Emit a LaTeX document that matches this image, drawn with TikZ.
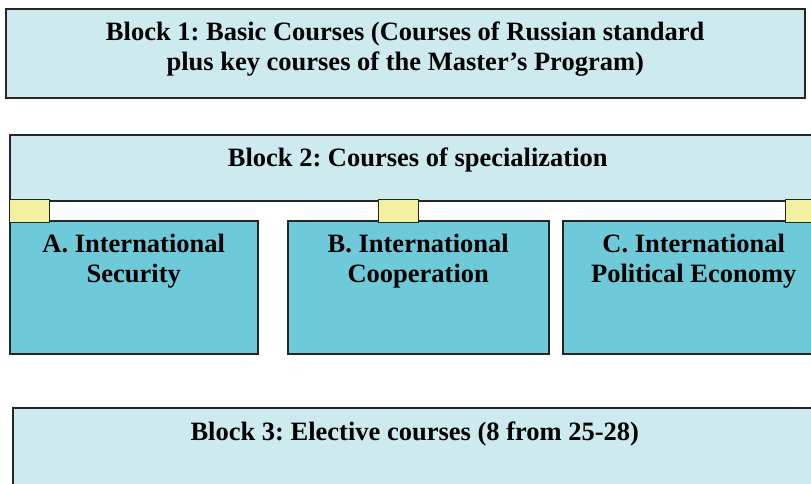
\documentclass[tikz,border=0pt]{standalone}
\usepackage{fontspec}
\setmainfont{Liberation Serif}
\usetikzlibrary{positioning}
\definecolor{lightblk}{HTML}{CDEBEF}
\definecolor{darkblk}{HTML}{6ECAD8}
\definecolor{tabyel}{HTML}{F2F0A1}
\frenchspacing
\newcommand\tab[2]{\node(#1)[tabbox] at (#2){};}
\begin{document}
\begin{tikzpicture}[x=1pt,y=-1pt,
    blk/.style={draw=black!85,line width=1.5pt,anchor=north west,inner sep=0pt},
    txt/.style={inner sep=0pt,align=center,font=\fontsize{26.5}{30}\selectfont\bfseries},
    tabbox/.style={draw=black!85,line width=1.3pt,fill=tabyel,anchor=north west,
        minimum width=40pt,minimum height=23pt,inner sep=0pt}]
    \useasboundingbox (0,0) rectangle (811,483);
    \clip (0,0) rectangle (811,483);
    \node(b1)[blk,fill=lightblk,minimum width=799pt,minimum height=89pt] at (5,8){};
    \node(b2)[blk,fill=lightblk,minimum width=816pt,minimum height=66pt] at (9,134){};
    \node(sa)[blk,fill=darkblk,minimum width=248pt,minimum height=133pt] at (9,220){};
    \node(sb)[blk,fill=darkblk,minimum width=261pt,minimum height=133pt] at (287,220){};
    \node(sc)[blk,fill=darkblk,minimum width=262pt,minimum height=133pt] at (562,220){};
    \node(b3)[blk,fill=lightblk,minimum width=804pt,minimum height=120pt] at (12,407){};
    \tab{t1}{9,199} \tab{t2}{378,199} \tab{t3}{785,199}
    \node(l1)[txt,below=14pt of b1.north]{Block 1: Basic Courses (Courses of Russian standard\\plus key courses of the Master’s Program)};
    \node(l2)[txt,below=14pt of b2.north]{Block 2: Courses of specialization};
    \node(la)[txt,below=14pt of sa.north]{A. International\\Security};
    \node(lb)[txt,below=14pt of sb.north]{B. International\\Cooperation};
    \node(lc)[txt,below=14pt of sc.north]{C. International\\Political Economy};
    \node(l3)[txt,below=15pt of b3.north]{Block 3: Elective courses (8 from 25-28)};
\end{tikzpicture}
\end{document}
